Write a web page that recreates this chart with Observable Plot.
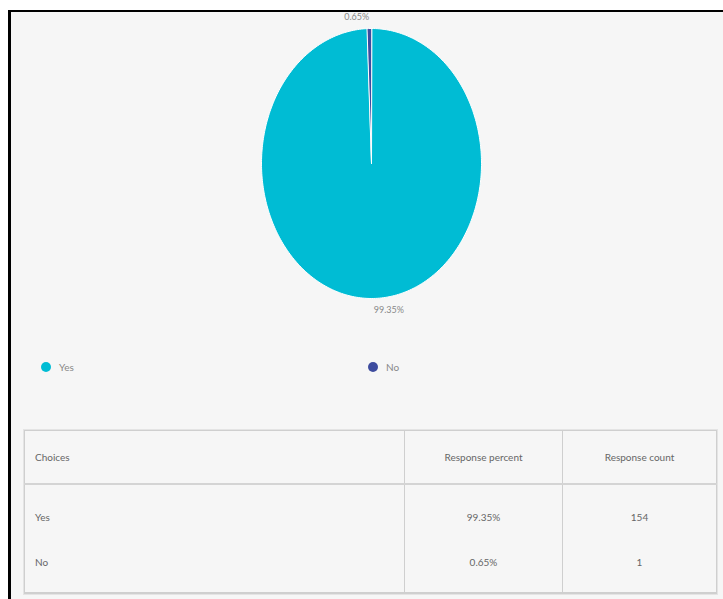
<!DOCTYPE html>
<html>
<head>
<meta charset="utf-8">
<script src="https://cdn.jsdelivr.net/npm/d3@7"></script>
<script src="https://cdn.jsdelivr.net/npm/@observablehq/plot@0.6"></script>
<style>
  html, body { margin: 0; padding: 0; background: #fff; }
  body { position: relative; width: 723px; height: 599px; overflow: hidden; font-family: Lato, "Open Sans", sans-serif; }
  #frame { position: absolute; left: 8px; top: 10px; width: 720px; height: 600px; border-left: 3px solid #000; border-top: 2px solid #000; background: #f6f6f6; }
  #chart { position: absolute; left: 0; top: 0; }
  .legend { position: absolute; top: 361px; font-size: 10px; color: #888; display: flex; align-items: center; }
  .legend .sw { width: 10px; height: 10px; border-radius: 50%; margin-right: 8px; }
  table { position: absolute; left: 24px; top: 430px; width: 693px; border-collapse: collapse; font-size: 10px; color: #666; box-shadow: 0 0 0 1px #e4e4e4; }
  th, td { border-left: 1px solid #cfcfcf; border-right: 1px solid #cfcfcf; font-weight: normal; }
  thead th { height: 52px; padding: 0; border-top: 1px solid #cfcfcf; border-bottom: 2px solid #d4d4d4; }
  tbody tr:last-child td { border-bottom: 2px solid #cfcfcf; }
  .c0 { text-align: left; padding-left: 10px !important; width: 369px; }
  .c1 { text-align: center; width: 157px; }
  .c2 { text-align: center; }
  td { padding: 0; }
  tr.r0 td { padding-top: 22px; line-height: 20px; }
  tr.r1 td { padding-top: 25px; padding-bottom: 20px; line-height: 20px; }
</style>
</head>
<body>
<div id="frame"></div>
<div id="chart"></div>
<div class="legend" id="leg0" style="left:41px"></div>
<div class="legend" id="leg1" style="left:368px"></div>
<table id="tbl"></table>
<script>
const categories = ["Yes", "No"];
const percents = [99.35, 0.65];
const counts = [154, 1];
const colors = ["#00bcd4", "#3d4c9e"];
const headers = ["Choices", "Response percent", "Response count"];

// slices from data
const pie = d3.pie().sort(null).value((d, i) => percents[i])(categories);
const slicePts = [];
pie.forEach((s, i) => {
  const cat = categories[i];
  slicePts.push({cat, x: 0, y: 0});
  const n = Math.max(2, Math.ceil((s.endAngle - s.startAngle) / (Math.PI / 180)));
  for (let k = 0; k <= n; k++) {
    const a = s.startAngle + (s.endAngle - s.startAngle) * k / n;
    slicePts.push({cat, x: Math.sin(a), y: Math.cos(a)});
  }
});
const labels = pie.map((s, i) => {
  const a = (s.startAngle + s.endAngle) / 2;
  return {cat: categories[i], text: percents[i] + "%", x: Math.sin(a) * 1.0, y: Math.cos(a) * 1.085, a};
});

const plot = Plot.plot({
  width: 723,
  height: 330,
  marginLeft: 261,
  marginRight: 242,
  marginTop: 28,
  marginBottom: 32,
  x: {domain: [-1, 1], axis: null},
  y: {domain: [-1, 1], axis: null},
  color: {domain: categories, range: colors},
  style: {background: "transparent", overflow: "visible"},
  marks: [
    Plot.line(slicePts, {x: "x", y: "y", z: "cat", fill: "cat", stroke: "white", strokeWidth: 1, curve: "linear-closed"}),
    Plot.text(labels.filter(d => d.x >= 0), {x: "x", y: "y", text: "text", textAnchor: "start", fill: "#888", fontSize: 9, fontFamily: "Lato, sans-serif"}),
    Plot.text(labels.filter(d => d.x < 0), {x: "x", y: "y", text: "text", textAnchor: "end", fill: "#888", fontSize: 9, fontFamily: "Lato, sans-serif"})
  ]
});
document.getElementById("chart").appendChild(plot);

categories.forEach((c, i) => {
  const el = document.getElementById("leg" + i);
  el.innerHTML = `<span class="sw" style="background:${colors[i]}"></span><span>${c}</span>`;
});

const tbl = document.getElementById("tbl");
let html = "<thead><tr>" + headers.map((h, j) => `<th class="c${j}">${h}</th>`).join("") + "</tr></thead><tbody>";
categories.forEach((c, i) => {
  html += `<tr class="r${i}"><td class="c0">${c}</td><td class="c1">${percents[i]}%</td><td class="c2">${counts[i]}</td></tr>`;
});
html += "</tbody>";
tbl.innerHTML = html;
</script>
</body>
</html>
